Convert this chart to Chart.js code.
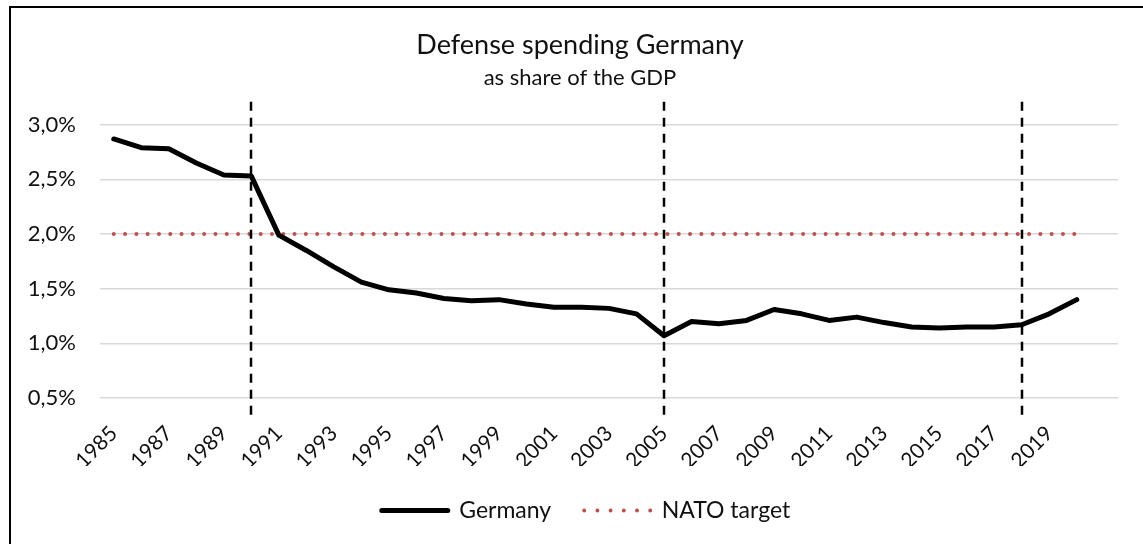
<!DOCTYPE html>
<html lang="en">
<head>
  <meta charset="UTF-8">
  <title>Defense spending Germany</title>
  <style>
    html, body {
      margin: 0;
      padding: 0;
      background: #ffffff;
      overflow: hidden;
    }
    #chartContainer {
      position: absolute;
      left: 0;
      top: 0;
      width: 1143px;
      height: 544px;
    }
    /* frame around the chart, open to the right and bottom */
    #frame {
      position: absolute;
      left: 9px;
      top: 6px;
      width: 1300px;
      height: 700px;
      border-left: 2px solid #000;
      border-top: 2px solid #000;
      pointer-events: none;
    }
  </style>
  <script src="https://cdn.jsdelivr.net/npm/chart.js"></script>
</head>
<body>

  <div id="chartContainer">
    <canvas id="chartCanvas"></canvas>
  </div>
  <div id="frame"></div>

  <script>
    // years on the x axis (one spare slot after 2020)
    const years = [
      1985, 1986, 1987, 1988, 1989, 1990, 1991, 1992, 1993, 1994,
      1995, 1996, 1997, 1998, 1999, 2000, 2001, 2002, 2003, 2004,
      2005, 2006, 2007, 2008, 2009, 2010, 2011, 2012, 2013, 2014,
      2015, 2016, 2017, 2018, 2019, 2020
    ];

    // defense spending as % of GDP
    const germany = [
      2.87, 2.79, 2.78, 2.65, 2.54, 2.53, 1.99, 1.85, 1.70, 1.56,
      1.49, 1.46, 1.41, 1.39, 1.40, 1.36, 1.33, 1.33, 1.32, 1.27,
      1.07, 1.20, 1.18, 1.21, 1.31, 1.27, 1.21, 1.24, 1.19, 1.15,
      1.14, 1.15, 1.15, 1.17, 1.27, 1.40
    ];

    // NATO 2% target
    const natoTarget = years.map(() => 2.0);

    // y axis tick values
    const yTicks = [0.5, 1.0, 1.5, 2.0, 2.5, 3.0];

    // years marked with a dashed vertical line
    const markerYears = [1990, 2005, 2018];

    const fontFamily = 'Lato, "Noto Sans", sans-serif';

    // draws the dashed vertical lines at the marker years
    const markerLines = {
      id: 'markerLines',
      afterDatasetsDraw(chart) {
        const ctx = chart.ctx;
        const area = chart.chartArea;
        const x = chart.scales.x;
        ctx.save();
        ctx.strokeStyle = '#000';
        ctx.lineWidth = 2.5;
        ctx.setLineDash([9, 7]);
        markerYears.forEach(year => {
          const px = Math.round(x.getPixelForValue(years.indexOf(year)));
          ctx.beginPath();
          ctx.moveTo(px, area.top);
          ctx.lineTo(px, area.bottom);
          ctx.stroke();
        });
        ctx.restore();
      }
    };

    // nudge the title blocks and the legend a bit to the right
    const shiftBlocks = {
      id: 'shiftBlocks',
      afterLayout(chart) {
        chart.boxes.forEach(box => {
          let dx = 0;
          if (box === chart.legend) dx = 27;
          else if (box.position === 'top') dx = 21;
          box.left += dx;
          box.right += dx;
        });
      }
    };

    window.onload = () => {
      const ctx = document.getElementById('chartCanvas').getContext('2d');

      new Chart(ctx, {
        type: 'line',
        data: {
          labels: years.map(String).concat(['']),
          datasets: [
            {
              label: 'Germany',
              data: germany,
              borderColor: '#000',
              backgroundColor: '#000',
              borderWidth: 5,
              borderCapStyle: 'round',
              borderJoinStyle: 'round',
              pointRadius: 0,
              tension: 0
            },
            {
              label: 'NATO target',
              data: natoTarget,
              borderColor: '#c0504d',
              backgroundColor: '#c0504d',
              borderWidth: 4,
              borderDash: [0, 11.3],
              borderCapStyle: 'round',
              borderJoinStyle: 'round',
              pointRadius: 0,
              tension: 0
            }
          ]
        },
        plugins: [markerLines, shiftBlocks],
        options: {
          responsive: true,
          maintainAspectRatio: false,
          animation: false,
          layout: {
            padding: { left: 0, right: 25, top: 0, bottom: 12 }
          },
          plugins: {
            title: {
              display: true,
              text: 'Defense spending Germany',
              color: '#111',
              font: { family: fontFamily, size: 27, weight: 'normal' },
              padding: { top: 29, bottom: 2 }
            },
            subtitle: {
              display: true,
              text: 'as share of the GDP',
              color: '#111',
              font: { family: fontFamily, size: 22, weight: 'normal' },
              padding: { top: 1, bottom: 11 }
            },
            legend: {
              position: 'bottom',
              labels: {
                color: '#111',
                font: { family: fontFamily, size: 23 },
                boxWidth: 66,
                boxHeight: 0,
                padding: 33,
                generateLabels(chart) {
                  const items = Chart.defaults.plugins.legend.labels.generateLabels(chart);
                  // spacing that fits the sample width exactly
                  items[1].lineDash = [0, 13.2];
                  return items;
                }
              }
            },
            tooltip: { enabled: false }
          },
          scales: {
            x: {
              offset: true,
              grid: { display: false, drawTicks: false },
              border: { display: false },
              ticks: {
                color: '#111',
                font: { family: fontFamily, size: 21 },
                autoSkip: false,
                maxRotation: 45,
                minRotation: 45,
                padding: 3,
                callback(value, index) {
                  return index % 2 === 0 ? this.getLabelForValue(value) : '';
                }
              },
              afterFit(scale) {
                scale.height = 48;
              }
            },
            y: {
              min: 0.317,
              max: 3.21,
              grid: { color: '#d9d9d9', lineWidth: 1.5, drawTicks: false },
              border: { display: false },
              ticks: {
                color: '#111',
                font: { family: fontFamily, size: 22 },
                padding: 24,
                callback(value) {
                  return value.toFixed(1).replace('.', ',') + '%';
                }
              },
              afterBuildTicks(scale) {
                scale.ticks = yTicks.map(v => ({ value: v }));
              },
              afterFit(scale) {
                scale.width = 100;
              }
            }
          }
        }
      });
    };
  </script>
</body>
</html>
